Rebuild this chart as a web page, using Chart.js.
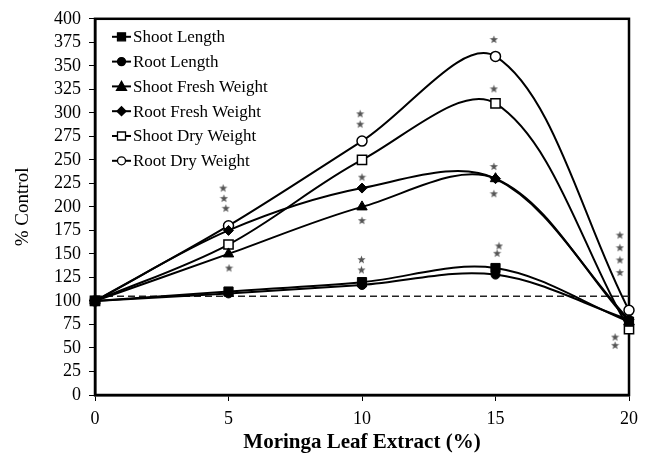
<!DOCTYPE html>
<html>
<head>
<meta charset="utf-8">
<script src="https://cdn.jsdelivr.net/npm/chart.js@4.4.1/dist/chart.umd.min.js"></script>
<style>
  html, body { margin: 0; padding: 0; background: #fff; }
  #wrap { width: 652px; height: 463px; }
</style>
</head>
<body>
<div id="wrap"><canvas id="chart"></canvas></div>
<script>
// % of control for each trait at each extract concentration
const extract = [0, 5, 10, 15, 20];
const shootLength = [100, 110, 120, 135, 78];
const rootLength = [100, 108, 117, 128, 80];
const shootFresh = [100, 150, 200, 230, 78];
const rootFresh = [100, 175, 220, 230, 80];
const shootDry = [100, 160, 250, 310, 70];
const rootDry = [100, 180, 270, 360, 90];
const controlX = [0, 20];
const controlY = [105, 105];

// significance stars
const starX = [4.8, 4.83, 4.9, 5.02,
               9.93, 9.93, 10, 10, 9.98, 9.98,
               14.94, 14.94, 14.94, 14.94, 15.13, 15.06,
               19.66, 19.66, 19.66, 19.66, 19.48, 19.48];
const starY = [220, 209, 198.5, 135,
               299, 288, 231.6, 185.5, 144, 133,
               378, 325.5, 243, 214, 158.5, 150.7,
               170, 156.6, 143.6, 130.2, 61.6, 52.8];

const serif = '"Liberation Serif", "Times New Roman", serif';

function pts(ys) { return extract.map((x, i) => ({ x: x, y: ys[i] })); }

// small five-pointed star used as a point style
const starImg = document.createElement('canvas');
starImg.width = 9; starImg.height = 9;
(function () {
  const c = starImg.getContext('2d');
  c.fillStyle = '#555';
  c.beginPath();
  for (let i = 0; i < 10; i++) {
    const r = i % 2 ? 1.8 : 4.3;
    const a = -Math.PI / 2 + i * Math.PI / 5;
    const px = 4.5 + r * Math.cos(a), py = 4.7 + r * Math.sin(a);
    if (i) c.lineTo(px, py); else c.moveTo(px, py);
  }
  c.closePath();
  c.fill();
})();

function series(label, ys, style, radius, open) {
  return {
    label: label,
    data: pts(ys),
    showLine: true,
    borderColor: '#000',
    borderWidth: 2,
    pointStyle: style,
    pointRadius: radius,
    pointBackgroundColor: open ? '#fff' : '#000',
    pointBorderColor: '#000',
    pointBorderWidth: open ? 1.5 : 1,
    tension: 0.34,
    clip: 10,
    fill: false
  };
}

const datasets = [
  series('Shoot Length', shootLength, 'rect', 6.5, false),
  series('Root Length', rootLength, 'circle', 4.5, false),
  series('Shoot Fresh Weight', shootFresh, 'triangle', 6, false),
  series('Root Fresh Weight', rootFresh, 'rectRot', 5, false),
  series('Shoot Dry Weight', shootDry, 'rect', 6.5, true),
  series('Root Dry Weight', rootDry, 'circle', 5, true),
  {
    label: 'control',
    data: controlX.map((x, i) => ({ x: x, y: controlY[i] })),
    showLine: true,
    borderColor: '#222',
    borderWidth: 1.5,
    borderDash: [7, 4],
    pointRadius: 0,
    tension: 0,
    hideInLegend: true
  },
  {
    label: 'stars',
    data: starX.map((x, i) => ({ x: x, y: starY[i] })),
    showLine: false,
    pointStyle: starImg,
    pointRadius: 4,
    clip: 10,
    hideInLegend: true
  }
];

function drawMarker(ctx, style, open, x, y) {
  ctx.save();
  ctx.fillStyle = open ? '#fff' : '#000';
  ctx.strokeStyle = '#000';
  ctx.lineWidth = 1.3;
  ctx.beginPath();
  if (style === 'rect') ctx.rect(x - 4, y - 4, 8, 8);
  else if (style === 'circle') ctx.arc(x, y, 4, 0, Math.PI * 2);
  else if (style === 'triangle') { ctx.moveTo(x, y - 5); ctx.lineTo(x + 5, y + 4); ctx.lineTo(x - 5, y + 4); ctx.closePath(); }
  else if (style === 'rectRot') { ctx.moveTo(x, y - 4.5); ctx.lineTo(x + 4.5, y); ctx.lineTo(x, y + 4.5); ctx.lineTo(x - 4.5, y); ctx.closePath(); }
  ctx.fill();
  ctx.stroke();
  ctx.restore();
}

const framePlugin = {
  id: 'frame',
  beforeDatasetsDraw(chart) {
    const ctx = chart.ctx, a = chart.chartArea;
    ctx.save();
    ctx.strokeStyle = '#000';
    ctx.lineWidth = 2.5;
    ctx.strokeRect(a.left, a.top, a.right - a.left, a.bottom - a.top);
    ctx.restore();
  },
  afterDatasetsDraw(chart) {
    const ctx = chart.ctx, a = chart.chartArea;
    ctx.save();
    // legend inside the plot area
    let lx = a.left + 17, ly = a.top + 18;
    ctx.font = '17px ' + serif;
    ctx.textBaseline = 'middle';
    ctx.fillStyle = '#000';
    ctx.strokeStyle = '#000';
    chart.data.datasets.forEach(ds => {
      if (ds.hideInLegend) return;
      ctx.lineWidth = 2;
      ctx.beginPath();
      ctx.moveTo(lx, ly); ctx.lineTo(lx + 19, ly);
      ctx.stroke();
      drawMarker(ctx, ds.pointStyle, ds.pointBackgroundColor === '#fff', lx + 9.5, ly);
      ctx.fillStyle = '#000';
      ctx.fillText(ds.label, lx + 21, ly + 1);
      ly += 24.8;
    });
    ctx.restore();
  }
};

new Chart(document.getElementById('chart'), {
  type: 'scatter',
  data: { datasets: datasets },
  plugins: [framePlugin],
  options: {
    responsive: true,
    maintainAspectRatio: false,
    animation: false,
    layout: { padding: { left: 0, right: 23, top: 16, bottom: 0 } },
    plugins: {
      legend: { display: false },
      tooltip: { enabled: false }
    },
    scales: {
      x: {
        type: 'linear',
        min: 0,
        max: 20,
        afterFit(scale) { scale.height = 68; },
        ticks: { stepSize: 5, color: '#000', padding: 7, font: { family: serif, size: 18 } },
        grid: { drawOnChartArea: false, color: '#000', tickLength: 6, lineWidth: 1 },
        border: { color: '#000', width: 2.5 },
        title: {
          display: true,
          text: 'Moringa Leaf Extract (%)',
          color: '#000',
          font: { family: serif, size: 21, weight: 'bold' },
          padding: { top: 0, bottom: 8 }
        }
      },
      y: {
        min: 0,
        max: 400,
        afterFit(scale) { scale.width = 95; },
        ticks: { stepSize: 25, autoSkip: false, color: '#000', padding: 8, font: { family: serif, size: 18 } },
        grid: { drawOnChartArea: false, color: '#000', tickLength: 6, lineWidth: 1 },
        border: { color: '#000', width: 2.5 },
        title: {
          display: true,
          text: '% Control',
          color: '#000',
          font: { family: serif, size: 19 },
          padding: { top: 12, bottom: 0 }
        }
      }
    }
  }
});
</script>
</body>
</html>
